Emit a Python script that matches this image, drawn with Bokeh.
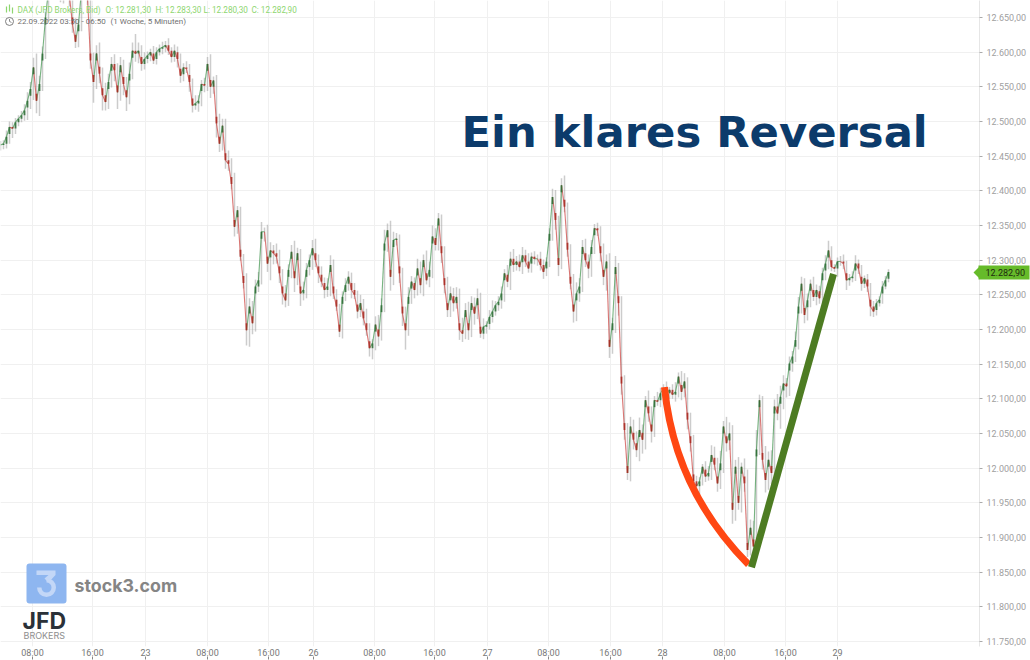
from math import pi
from bokeh.plotting import figure
from bokeh.embed import file_html
from bokeh.resources import INLINE
from bokeh.models import (ColumnDataSource, FixedTicker, Range1d, Label, PolyAnnotation, BoxAnnotation, LinearAxis)

# ---------- data ----------
bar_minutes = 24  # one drawn bar per 24 chart minutes
closes = [
 12466,12468,12478,12492,12490,12499,12504,12509,12516,12530,12547,12578,12530,12554,12598,
 12650,12690,12700,12715,12690,12680,12700,12690,12680,12640,12615,12640,12690,12700,12680,
 12588,12557,12598,12569,12538,12528,12557,12583,12574,12542,12581,12554,12535,12569,12602,
 12598,12602,12583,12590,12595,12600,12588,12600,12605,12607,12610,12602,12593,12602,12590,
 12566,12578,12576,12557,12523,12526,12530,12554,12552,12583,12550,12559,12497,12468,12494,
 12444,12439,12410,12348,12372,12305,12267,12199,12233,12209,12262,12271,12341,12341,12295,
 12314,12310,12305,12281,12252,12242,12286,12312,12274,12310,12252,12257,12286,12300,12317,
 12300,12281,12269,12257,12262,12293,12252,12233,12197,12247,12264,12276,12257,12250,12226,
 12238,12216,12199,12173,12180,12207,12190,12235,12324,12343,12276,12329,12331,12281,12223,
 12199,12247,12269,12257,12288,12264,12300,12271,12286,12334,12322,12360,12310,12264,12228,
 12252,12238,12247,12199,12194,12228,12199,12238,12223,12245,12194,12204,12206,12218,12226,
 12235,12240,12252,12281,12269,12302,12293,12298,12290,12307,12298,12288,12305,12302,12302,
 12293,12283,12298,12338,12391,12358,12293,12408,12377,12315,12266,12226,12252,12262,12319,
 12300,12288,12319,12346,12343,12310,12276,12298,12175,12209,12290,12238,12122,12055,11993,
 12060,12041,12026,12055,12041,12098,12079,12053,12098,12096,12108,12115,12108,12113,12106,
 12110,12132,12110,12125,12070,12036,11981,11974,11981,12002,11988,11993,12019,12005,11978,
 12007,12060,12036,12050,11940,12002,11950,12002,11978,11882,11914,11887,12027,12098,12012,
 11983,12012,11993,12089,12079,12103,12122,12118,12151,12161,12185,12233,12266,12221,12242,
 12266,12247,12257,12245,12281,12295,12314,12290,12288,12298,12298,12295,12271,12274,12276,
 12295,12288,12266,12274,12262,12233,12226,12238,12243,12262,12271,12283,
]
wick_up = [
 6,5,9,8,7,6,5,6,9,12,10,14,20,12,10, 8,9,6,8,7,12,9,6,10,12,9,7,8,6,9,
 14,11,12,16,9,18,12,10,14,10,12,8,10,16,12, 24,12,8,10,6,5,9,7,6,8,6,10,5,9,6,
 8,6,9,7,5,12,8,6,9,10,14,6,8,14,10, 10,14,8,16,6,5,4,14,12,8,10,12,14,6,10,
 12,8,14,10,6,12,8,10,16,8,6,12,10,8,12, 14,8,10,6,12,14,8,6,4,8,10,8,6,10,6,
 12,6,14,10,6,12,14,10,20,10,14,12,8,6,8, 10,14,8,6,14,10,8,14,12,16,12,8,6,10,12,
 10,8,14,12,18,10,12,10,8,14,8,12,6,10,16, 6,8,10,6,12,10,14,8,10,12,8,12,6,8,6,
 10,8,6,8,12,10,6,10,14,6,8,14,16,12,10, 12,8,10,6,8,6,14,10,12,8,16,6,10,12,10,
 14,10,12,18,8,6,14,10,6,12,8,6,10,4,8, 14,6,8,12,6,10,12,8,6,4,8,10,14,12,10,
 18,8,14,16,12,10,14,6,12,20,12,10,28,8,6, 20,12,14,10,18,16,12,8,10,8,12,14,10,8,10,
 6,10,8,6,8,12,14,6,4,6,8,10,4,6,8, 12,6,5,4,6,5,8,6,5,8,6,4,
]
wick_down = [
 8,6,7,10,14,8,6,5,8,14,12,16,18,22,10, 8,6,9,7,12,8,10,6,14,12,9,8,10,6,12,
 12,30,10,14,22,12,10,8,16,24,12,16,20,10,8, 12,14,10,8,6,8,5,6,5,8,7,6,8,7,12,
 10,8,6,14,10,6,12,8,10,8,16,10,20,12,10, 12,10,8,14,10,6,8,22,24,16,12,8,6,14,12,
 24,16,10,14,16,10,8,12,20,10,18,10,12,8,14, 10,14,8,12,10,14,8,6,8,10,6,8,12,6,10,
 8,10,8,12,16,10,14,6,10,12,20,12,8,14,18, 28,8,10,12,8,12,16,6,10,12,8,8,14,12,10,
 10,12,8,14,12,8,14,10,16,8,6,8,10,6,8, 6,8,10,12,8,12,10,8,6,10,8,6,6,8,10,
 8,10,6,8,10,14,16,6,8,10,8,16,14,12,8, 10,14,12,10,8,12,12,20,16,10,14,18,16,14,10,
 12,14,10,16,20,14,12,16,8,6,8,6,10,8,6, 10,8,12,8,14,12,10,8,12,6,8,6,10,8,12,
 8,14,12,10,20,16,10,14,12,10,8,12,10,8,14, 18,14,16,12,10,22,18,16,14,12,8,14,10,12,8,
 10,6,12,8,6,10,8,6,5,12,6,8,14,8,6, 6,8,10,6,8,14,8,6,5,6,4,3,
]
x_tick_minutes = [256,736,1160,1656,2144,2504,2992,3472,3896,4384,4880,5296,5792,6280,6696]
x_tick_labels = ["08:00","16:00","23","08:00","16:00","26","08:00","16:00","27","08:00","16:00","28","08:00","16:00","29"]
y_ticks = [11750,11800,11850,11900,11950,12000,12050,12100,12150,12200,12250,12300,12350,12400,12450,12500,12550,12600,12650]
y_labels = ["11.750,00","11.800,00","11.850,00","11.900,00","11.950,00","12.000,00","12.050,00","12.100,00","12.150,00","12.200,00","12.250,00","12.300,00","12.350,00","12.400,00","12.450,00","12.500,00","12.550,00","12.600,00","12.650,00"]
red_arc = dict(x0=[5312],y0=[12117],x1=[5984],y1=[11861],cx=[5392],cy=[11969])
green_leg_minutes = [6008,6664]
green_leg_prices = [11857,12280]
last_value = 12282.9
last_price = "12.282,90"
ohlc_labels = ["DAX (JFD Brokers, Bid)","O: 12.281,30","H: 12.283,30","L: 12.280,30","C: 12.282,90"]

# ---------- build ----------
n = min(len(closes), len(wick_up), len(wick_down))
closes = closes[:n]
t = [i * bar_minutes for i in range(n)]
t0 = [t[max(i-1,0)] for i in range(n)]
opens = [closes[max(i-1,0)] for i in range(n)]
highs = [max(o,c)+w for o,c,w in zip(opens,closes,wick_up)]
lows = [min(o,c)-w for o,c,w in zip(opens,closes,wick_down)]
colors = ["#2e8b3d" if c>=o else "#c9302c" for o,c in zip(opens,closes)]
dark = ["#2a6b33" if c>=o else "#a8281e" for o,c in zip(opens,closes)]
body_end = [c-min(c-o,10) if c>=o else c+min(o-c,10) for o,c in zip(opens,closes)]
src = ColumnDataSource(dict(t=t,t0=t0,o=opens,c=closes,h=highs,l=lows,col=colors,dark=dark,be=body_end))

p = figure(width=1030, height=660, output_backend="svg", toolbar_location=None,
           x_range=Range1d(0,7832), y_range=Range1d(11742.8,12674.48),
           y_axis_location="right", min_border_left=0, min_border_top=0,
           min_border_right=51, min_border_bottom=13, outline_line_color=None,
           background_fill_color="white", border_fill_color="white", margin=0)

yax = p.yaxis[0]
yax.ticker = FixedTicker(ticks=y_ticks)
yax.major_label_overrides = {k:v for k,v in zip(y_ticks,y_labels)}
yax.axis_line_color = "#e6e6e6"
yax.major_tick_line_color = "#aaaaaa"
yax.major_tick_out = 3
yax.major_tick_in = 0
yax.minor_tick_line_color = None
yax.major_label_text_color = "#a0a0a0"
yax.major_label_text_font = "Roboto"
yax.major_label_text_font_size = "9px"
yax.major_label_standoff = 4

xax = p.xaxis[0]
xax.ticker = FixedTicker(ticks=x_tick_minutes)
xax.major_label_overrides = {k:v for k,v in zip(x_tick_minutes,x_tick_labels)}
xax.axis_line_color = None
xax.major_tick_line_color = "#888888"
xax.major_tick_in = -10
xax.major_tick_out = 13
xax.minor_tick_line_color = None
xax.major_label_text_color = "#777777"
xax.major_label_text_font = "Roboto"
xax.major_label_text_font_size = "9px"
xax.major_label_standoff = -12

# last price tag: an outer right axis, its one thick tick is the tag body
tag = LinearAxis(ticker=FixedTicker(ticks=[last_value]), major_label_overrides={last_value:last_price})
tag.axis_line_color = None
tag.minor_tick_line_color = None
tag.major_tick_line_color = "#66bb2a"
tag.major_tick_line_width = 14
tag.major_tick_in = 51
tag.major_tick_out = 0
tag.major_label_standoff = -44
tag.major_label_text_color = "#1f2a10"
tag.major_label_text_font = "Roboto"
tag.major_label_text_font_size = "9px"
p.add_layout(tag, "right")

p.xgrid.ticker = FixedTicker(ticks=x_tick_minutes)
p.ygrid.ticker = FixedTicker(ticks=y_ticks)
p.xgrid.grid_line_color = "#f0f0f0"
p.ygrid.grid_line_color = "#f0f0f0"

def mx(px): return px*8
def my(py): return 12674.48-1.44*py

# logo (under glyphs)
p.add_layout(BoxAnnotation(left=26,right=66,top=563,bottom=603,left_units="canvas",right_units="canvas",
    top_units="canvas",bottom_units="canvas",fill_color="#8ab4f0",fill_alpha=0.97,line_color=None,border_radius=3,level="underlay"))
glyph3 = "#c3d7f7"
p.quad(left=[mx(36)],right=[mx(55)],top=[my(571)],bottom=[my(575.5)],fill_color=glyph3,line_color=None)
p.patch([mx(48),mx(55),mx(48),mx(44)],[my(575.5),my(575.5),my(583),my(579)],fill_color=glyph3,line_color=None)
p.annular_wedge(x=[mx(46)],y=[my(588)],inner_radius=5,outer_radius=9.5,inner_radius_units="screen",outer_radius_units="screen",
    start_angle=pi,end_angle=2.5*pi,fill_color=glyph3,line_color=None)

# small icons next to the header
p.segment([mx(6),mx(9),mx(12)],[my(6),my(4),my(7)],[mx(6),mx(9),mx(12)],[my(12),my(11),my(13)],line_color="#8ed66f",line_width=1.2)
p.scatter([mx(9)],[my(21)],size=8,marker="circle",fill_color=None,line_color="#707070",line_width=0.9)
p.line([mx(9),mx(9),mx(11)],[my(18.5),my(21),my(22)],line_color="#707070",line_width=0.8)

p.segment("t","h","t","l",source=src,line_color="#8f8f8f",line_alpha=0.45,line_width=1.5)
p.segment("t0","o","t","c",source=src,line_color="col",line_alpha=0.65,line_width=1.1)
p.segment("t","be","t","c",source=src,line_color="dark",line_alpha=0.85,line_width=1.8)

p.quadratic(x0="x0",y0="y0",x1="x1",y1="y1",cx="cx",cy="cy",source=ColumnDataSource(red_arc),
            line_color="#ff4713",line_width=7,line_cap="butt")
p.line(green_leg_minutes,green_leg_prices,line_color="#4d7c22",line_width=7,line_cap="butt")

def label(x,y,text,color,size,font="Roboto",style="normal"):
    p.add_layout(Label(x=x,y=y,x_units="canvas",y_units="canvas",text=text,text_color=color,
        text_font=font,text_font_size=size,text_font_style=style,text_baseline="middle"))

label(461,131,"Ein klares Reversal","#0c3b6b","43.3px","DejaVu Sans","bold")
for x,s in zip([17,105,155,203,251],ohlc_labels):
    label(x,9,s,"#8ed66f","8.2px")
label(17,21,"22.09.2022 03:50 - 06:50","#707070","8px")
label(110,21,"(1 Woche, 5 Minuten)","#707070","8px")

# last price tag pointer
p.add_layout(PolyAnnotation(xs=[973,980,981,981,980],ys=[272,265,265,279,279],xs_units="canvas",ys_units="canvas",
    fill_color="#66bb2a",fill_alpha=1,line_color=None))

# logo texts
label(74,585,"stock3.com","#858585","17.8px","Inter","bold")
label(22,620,"JFD","#2b3138","23px","Inter","bold")
label(23,635,"BROKERS","#8e8e8e","9px","Inter")

open("out.html","w").write(file_html(p,INLINE))
